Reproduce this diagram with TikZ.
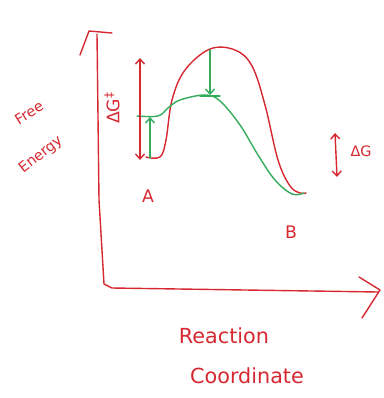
\documentclass[tikz,border=0pt]{standalone}
\usepackage{fontspec}
\setmainfont{DejaVu Sans}
\usetikzlibrary{arrows.meta}
\definecolor{rouge}{RGB}{214,40,48}
\definecolor{vert}{RGB}{52,172,92}
\begin{document}
\begin{tikzpicture}[x=1pt,y=-1pt,line cap=round,line join=round,
    >={Straight Barb[length=5pt,width=9pt]},
    trait/.style={rouge, line width=1.4pt},
    traitv/.style={vert, line width=1.4pt},
    lab/.style={rouge, font=\LARGE}]

    \useasboundingbox (0,0) rectangle (383,398);

    % Axes
    \draw[trait] (80,55) -- (89,31) -- (112,33);
    \draw[trait] (97,34) -- (99,200) -- (104,284) -- (112,288) -- (378,292);
    \draw[trait] (359,277) -- (380,290) -- (362,318);

    % Courbes
    \draw[trait] plot[smooth, tension=0.6] coordinates {(146,157) (160,157) (166,140) (172,100) (185,70) (210,49) (235,50) (252,66) (265,105) (278,160) (290,186) (300,193) (306,193)};
    \draw[traitv] plot[smooth, tension=0.6] coordinates {(137,116) (158,116) (168,108) (180,100) (205,95) (220,101) (240,125) (258,155) (275,180) (292,194) (304,193)};

    % Fl\`eches
    \draw[trait, <->] (140,58) -- (140,160);
    \draw[traitv, ->] (150,158) -- (150,117);
    \draw[traitv, ->] (210,50) -- (210,95);
    \draw[traitv] (200,96) -- (220,96);
    \draw[trait, <->] (335,133) -- (337,177);

    % Labels
    \node[lab] (a) at (148,196) {A};
    \node[lab] (b) at (291,232) {B};
    \node[lab, rotate=90] (ga) at (112,108) {ΔG\textsuperscript{‡}};
    \node[lab, font=\Large] (g) at (361,151) {ΔG};
    \node[rouge, font=\Large, rotate=32] (fe) at (29,113) {Free};
    \node[rouge, font=\Large, rotate=38] (en) at (41,155) {Energy};
    \node[rouge, font=\huge] (rc) at (224,336) {Reaction};
    \node[rouge, font=\huge] (co) at (247,376) {Coordinate};

\end{tikzpicture}
\end{document}
